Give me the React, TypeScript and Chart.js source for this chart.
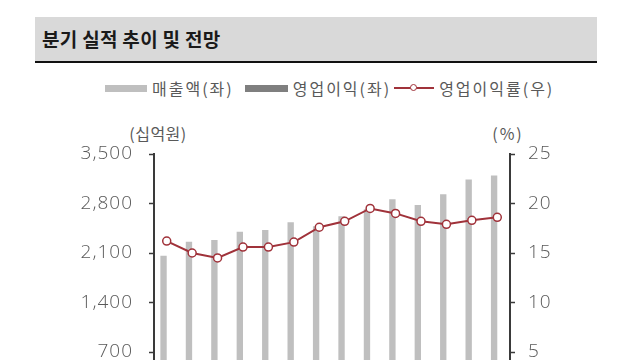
import React, { useEffect, useRef } from "react";
import { Chart, registerables } from "chart.js";

Chart.register(...registerables);

const quarters = ["1Q22", "2Q22", "3Q22", "4Q22", "1Q23", "2Q23", "3Q23", "4Q23", "1Q24", "2Q24", "3Q24", "4Q24", "1Q25", "2Q25"];
const revenue = [2060, 2260, 2285, 2400, 2425, 2535, 2480, 2620, 2720, 2860, 2780, 2930, 3140, 3195];
const opProfit = [330, 335, 330, 370, 375, 405, 430, 470, 520, 540, 500, 520, 560, 575];
const opMargin = [16.2, 15.0, 14.5, 15.6, 15.6, 16.1, 17.6, 18.2, 19.5, 19.0, 18.2, 17.9, 18.3, 18.6];
const leftTicks = [0, 700, 1400, 2100, 2800, 3500];
const rightTicks = [0, 5, 10, 15, 20, 25];

const title = "분기 실적 추이 및 전망";
const legendLabels = ["매출액(좌)", "영업이익(좌)", "영업이익률(우)"];
const leftUnit = "(십억원)";
const rightUnit = "(%)";

const LIGHT = "#bfbfbf";
const DARK = "#7f7f7f";
const RED = "#a0323a";
const AXIS = "#3a3a3a";
const TEXT = "#595959";
const KFONT = "'Noto Sans CJK KR', 'Noto Sans', sans-serif";
const NFONT = "'Open Sans', 'DejaVu Sans', sans-serif";

const spacingPlugin = {
  id: "tickSpacing",
  beforeDraw(chart: any) {
    chart.ctx.letterSpacing = "1px";
  },
};

export default function App() {
  const ref = useRef<HTMLCanvasElement | null>(null);

  useEffect(() => {
    const canvas = ref.current;
    if (!canvas) return;
    const chart = new Chart(canvas, {
      type: "bar",
      data: {
        labels: quarters,
        datasets: [
          {
            type: "line",
            label: legendLabels[2],
            data: opMargin,
            yAxisID: "y1",
            borderColor: RED,
            borderWidth: 2,
            pointRadius: 4,
            pointBorderWidth: 1.5,
            pointBackgroundColor: "#ffffff",
            pointBorderColor: RED,
            tension: 0,
            order: 0,
          },
          {
            type: "bar",
            label: legendLabels[0],
            data: revenue,
            yAxisID: "y",
            backgroundColor: LIGHT,
            barPercentage: 1,
            categoryPercentage: 0.5,
            order: 1,
          },
          {
            type: "bar",
            label: legendLabels[1],
            data: opProfit,
            yAxisID: "y",
            backgroundColor: DARK,
            barPercentage: 1,
            categoryPercentage: 0.5,
            order: 1,
          },
        ],
      },
      plugins: [spacingPlugin],
      options: {
        responsive: false,
        animation: false,
        layout: { padding: { top: 154, left: 0, right: 0, bottom: 0 } },
        plugins: { legend: { display: false }, tooltip: { enabled: false }, title: { display: false } },
        scales: {
          x: {
            offset: true,
            grid: { display: false },
            border: { display: false },
            ticks: { color: TEXT, font: { family: NFONT, size: 14 } },
            afterFit: (s: any) => {
              s.height = 460 - 401.5;
            },
          },
          y: {
            position: "left",
            min: 0,
            max: 3500,
            afterBuildTicks: (s: any) => {
              s.ticks = leftTicks.map((v) => ({ value: v }));
            },
            ticks: {
              color: TEXT,
              padding: 16,
              font: { family: NFONT, size: 19, weight: "300" as any },
              callback: (v: any) => Number(v).toLocaleString("en-US"),
            },
            grid: { drawOnChartArea: false, drawTicks: true, tickLength: 5, tickColor: AXIS, tickWidth: 1.5 },
            border: { display: true, color: AXIS, width: 2 },
            afterFit: (s: any) => {
              s.width = 154;
            },
          },
          y1: {
            position: "right",
            min: 0,
            max: 25,
            afterBuildTicks: (s: any) => {
              s.ticks = rightTicks.map((v) => ({ value: v }));
            },
            ticks: {
              color: TEXT,
              padding: 13,
              font: { family: NFONT, size: 19, weight: "300" as any },
            },
            grid: { drawOnChartArea: false, drawTicks: true, tickLength: 5, tickColor: AXIS, tickWidth: 1.5 },
            border: { display: true, color: AXIS, width: 2 },
            afterFit: (s: any) => {
              s.width = 640 - 510;
            },
          },
        },
      },
    });
    return () => chart.destroy();
  }, []);

  const legendText: React.CSSProperties = {
    fontFamily: KFONT,
    fontSize: 16,
    letterSpacing: "2px",
    color: TEXT,
    whiteSpace: "nowrap",
  };

  return (
    <div style={{ position: "fixed", left: 0, top: 0, width: 640, height: 360, overflow: "hidden", background: "#fff" }}>
      <div
        style={{
          position: "absolute",
          left: 35,
          top: 17,
          width: 562,
          height: 44,
          background: "#d9d9d9",
          borderBottom: "2px solid #111",
          boxSizing: "content-box",
        }}
      >
        <div
          style={{
            position: "absolute",
            left: 7,
            top: 0,
            height: 44,
            lineHeight: "44px",
            fontFamily: KFONT,
            fontWeight: 700,
            fontSize: 19,
            letterSpacing: "0.3px",
            color: "#1a1a1a",
            whiteSpace: "nowrap",
          }}
        >
          {title}
        </div>
      </div>

      <div style={{ position: "absolute", left: 105, top: 78, height: 20, display: "flex", alignItems: "center" }}>
        <span style={{ display: "inline-block", width: 42, height: 7, background: LIGHT, marginRight: 5 }} />
        <span style={legendText}>{legendLabels[0]}</span>
        <span style={{ display: "inline-block", width: 43, height: 7, background: DARK, marginLeft: 11, marginRight: 5 }} />
        <span style={legendText}>{legendLabels[1]}</span>
        <span style={{ position: "relative", display: "inline-block", width: 40, height: 10, marginLeft: 3, marginRight: 5 }}>
          <span style={{ position: "absolute", left: 0, right: 0, top: 4, height: 2, background: RED }} />
          <span
            style={{
              position: "absolute",
              left: 16,
              top: 1,
              width: 5,
              height: 5,
              borderRadius: "50%",
              border: `1.5px solid ${RED}`,
              background: "#fff",
            }}
          />
        </span>
        <span style={legendText}>{legendLabels[2]}</span>
      </div>

      <div
        style={{
          position: "absolute",
          left: 113,
          top: 121,
          width: 90,
          textAlign: "center",
          fontFamily: KFONT,
          fontSize: 16,
          letterSpacing: "0.5px",
          color: TEXT,
        }}
      >
        {leftUnit}
      </div>
      <div
        style={{
          position: "absolute",
          left: 476,
          top: 121,
          width: 64,
          textAlign: "center",
          fontFamily: KFONT,
          fontSize: 16,
          letterSpacing: "2px",
          color: TEXT,
        }}
      >
        {rightUnit}
      </div>

      <div style={{ position: "absolute", left: 0, top: 0, width: 640, height: 460 }}>
        <canvas ref={ref} width={640} height={460} style={{ width: 640, height: 460, display: "block" }} />
      </div>
    </div>
  );
}
